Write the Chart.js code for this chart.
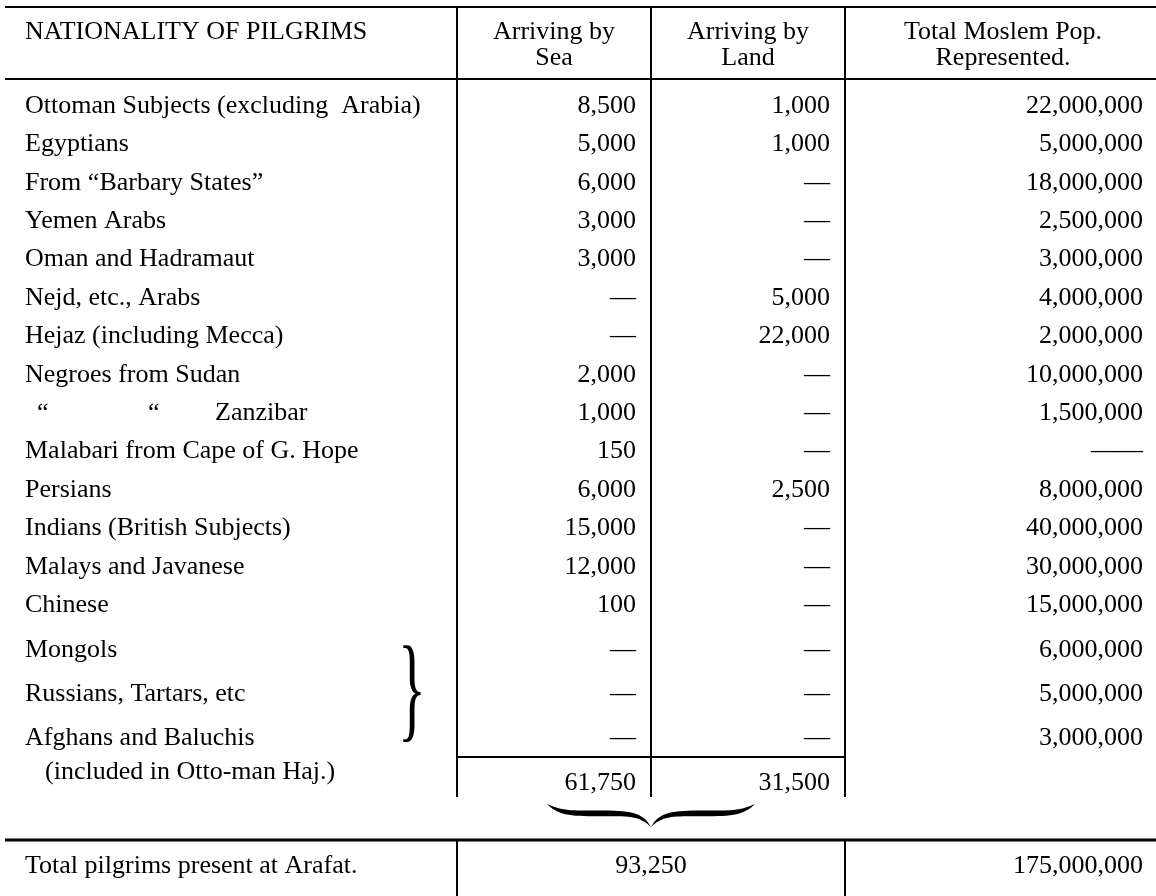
<!DOCTYPE html>
<html>
<head>
<meta charset="utf-8">
<title>Nationality of Pilgrims</title>
<script src="https://cdn.jsdelivr.net/npm/chart.js@4.4.1/dist/chart.umd.min.js"></script>
<style>
    html, body { margin: 0; padding: 0; background: #ffffff; }
    #wrap { width: 1156px; height: 896px; position: relative; }
</style>
</head>
<body>
<div id="wrap"><canvas id="pilgrimChart"></canvas></div>
<script>
// ======================================================
// DATA (read off the table)
// ======================================================
const nationalities = [
    "Ottoman Subjects (excluding  Arabia)",
    "Egyptians",
    "From \u201cBarbary States\u201d",
    "Yemen Arabs",
    "Oman and Hadramaut",
    "Nejd, etc., Arabs",
    "Hejaz (including Mecca)",
    "Negroes from Sudan",
    "\u201c\t\u201c\tZanzibar",
    "Malabari from Cape of G. Hope",
    "Persians",
    "Indians (British Subjects)",
    "Malays and Javanese",
    "Chinese",
    "Mongols",
    "Russians, Tartars, etc",
    "Afghans and Baluchis"
];

const bySea     = [8500, 5000, 6000, 3000, 3000, null, null, 2000, 1000, 150, 6000, 15000, 12000, 100, null, null, null];
const byLand    = [1000, 1000, null, null, null, 5000, 22000, null, null, null, 2500, null, null, null, null, null, null];
const moslemPop = [22000000, 5000000, 18000000, 2500000, 3000000, 4000000, 2000000, 10000000, 1500000, null,
                   8000000, 40000000, 30000000, 15000000, 6000000, 5000000, 3000000];

const columnHeads = [
    ["NATIONALITY OF PILGRIMS"],
    ["Arriving by", "Sea"],
    ["Arriving by", "Land"],
    ["Total Moslem Pop.", "Represented."]
];

const groupNote   = "(included in Otto-man Haj.)";
const seaTotal    = 61750;
const landTotal   = 31500;
const totalLabel  = "Total pilgrims present at Arafat.";
const arafatTotal = 93250;
const popTotal    = 175000000;

// ======================================================
// LAYOUT (x in layout px, y in row units)
// ======================================================
const W = 1156, H = 896;
const ROW0 = 106, ROW_H = 38.4;          // first body row centre, row pitch
const LEFT = 5, RIGHT = 1156;
const DIV = [457, 651, 845];
const PAD = 15, NUM_RIGHT = 1143, TEXT_X = 25, NOTE_X = 45;
const DITTO_X = [37, 148, 215];
const GROUP_FIRST = 14, GROUP_Y = 14.17, GROUP_STEP = 1.15;
const POP_HEAD_X = 1003;
const BRACE_X = 398;

const Y_TOP = -2.578, Y_HEAD1 = -1.93, Y_HEAD2 = -1.24, Y_HEADSEP = -0.703;
const Y_SUMLINE = 16.95, Y_NOTE = 17.35, Y_SUMS = 17.63, Y_DIVEND = 17.995;
const Y_BRACE_END = 18.17, Y_BRACE_MID = 18.43, Y_BRACE_TIP = 18.78;
const Y_TOTLINE = 19.12, Y_TOTAL = 19.80;

const FONT = '26px "Liberation Serif", "Times New Roman", serif';
const INK = "#000000";

function rowY(i) {
    if (i < GROUP_FIRST) return i;
    return GROUP_Y + (i - GROUP_FIRST) * GROUP_STEP;
}

function fmt(v) {
    return v === null ? "\u2014" : v.toLocaleString("en-US");
}

// ======================================================
// TABLE PLUGIN
// ======================================================
const tablePlugin = {
    id: "pilgrimTable",

    beforeDraw(chart) {
        const { ctx } = chart;
        ctx.save();
        ctx.fillStyle = "#ffffff";
        ctx.fillRect(0, 0, chart.width, chart.height);
        ctx.restore();
    },

    afterDraw(chart) {
        const { ctx, scales: { x, y } } = chart;
        const px = v => x.getPixelForValue(v);
        const py = v => y.getPixelForValue(v);

        const hLine = (x0, x1, yv, w) => {
            const yy = Math.round(py(yv));
            ctx.lineWidth = w;
            ctx.beginPath();
            ctx.moveTo(px(x0), yy);
            ctx.lineTo(px(x1), yy);
            ctx.stroke();
        };
        const vLine = (xv, y0, y1, w) => {
            const xx = Math.round(px(xv));
            ctx.lineWidth = w;
            ctx.beginPath();
            ctx.moveTo(xx, py(y0));
            ctx.lineTo(xx, py(y1));
            ctx.stroke();
        };
        const text = (s, xv, yv, align) => {
            ctx.textAlign = align;
            ctx.fillText(s, px(xv), py(yv));
        };

        ctx.save();
        ctx.strokeStyle = INK;
        ctx.fillStyle = INK;
        ctx.font = FONT;
        ctx.textBaseline = "middle";

        // rules
        hLine(LEFT, RIGHT, Y_TOP, 2);
        hLine(LEFT, RIGHT, Y_HEADSEP, 2);
        DIV.forEach(d => vLine(d, Y_TOP, Y_DIVEND, 2));
        hLine(DIV[0], DIV[2], Y_SUMLINE, 2);
        hLine(LEFT, RIGHT, Y_TOTLINE, 3);
        vLine(DIV[0], Y_TOTLINE, Y_TOTAL + 5, 2);
        vLine(DIV[2], Y_TOTLINE, Y_TOTAL + 5, 2);

        // header
        text(columnHeads[0][0], TEXT_X, Y_HEAD1, "left");
        const centres = [(DIV[0] + DIV[1]) / 2, (DIV[1] + DIV[2]) / 2, POP_HEAD_X];
        for (let c = 1; c < columnHeads.length; c++) {
            columnHeads[c].forEach((s, k) => text(s, centres[c - 1], k === 0 ? Y_HEAD1 : Y_HEAD2, "center"));
        }

        // body rows
        nationalities.forEach((name, i) => {
            const r = rowY(i);
            if (name.includes("\t")) {
                name.split("\t").forEach((part, k) => text(part, DITTO_X[k], r, "left"));
            } else {
                text(name, TEXT_X, r, "left");
            }
            text(fmt(bySea[i]), DIV[1] - PAD, r, "right");
            text(fmt(byLand[i]), DIV[2] - PAD, r, "right");
            const pop = moslemPop[i] === null ? "\u2014\u2014" : fmt(moslemPop[i]);
            text(pop, NUM_RIGHT, r, "right");
        });

        // group brace over the last three rows
        const gTop = py(rowY(GROUP_FIRST)) - 6;
        const gBot = py(rowY(nationalities.length - 1)) + 4;
        ctx.save();
        ctx.font = '58px "Liberation Serif", serif';
        ctx.textAlign = "left";
        ctx.textBaseline = "alphabetic";
        const m = ctx.measureText("}");
        const gh = m.actualBoundingBoxAscent + m.actualBoundingBoxDescent;
        const sy = (gBot - gTop) / gh;
        ctx.translate(px(BRACE_X), gTop);
        ctx.scale(1, sy);
        ctx.fillText("}", 0, m.actualBoundingBoxAscent);
        ctx.restore();

        // sums
        text(groupNote, NOTE_X, Y_NOTE, "left");
        text(fmt(seaTotal), DIV[1] - PAD, Y_SUMS, "right");
        text(fmt(landTotal), DIV[2] - PAD, Y_SUMS, "right");

        // under-brace, drawn as a filled calligraphic stroke
        const cx = DIV[1], half = 104;
        const yE = py(Y_BRACE_END), yM = py(Y_BRACE_MID), yT = py(Y_BRACE_TIP);
        const halfBrace = dir => {
            const a = px(cx + dir * half), b = px(cx), mid = (a + b) / 2, d = dir;
            ctx.beginPath();
            ctx.moveTo(a, yE);
            ctx.bezierCurveTo(a - d * 14, yM - 3, mid + d * 30, yM - 3.2, mid, yM - 3.2);
            ctx.bezierCurveTo(mid - d * 30, yM - 3.2, b + d * 8, yM - 2, b, yT);
            ctx.bezierCurveTo(b + d * 12, yM + 1.5, mid - d * 30, yM + 2.6, mid, yM + 2.6);
            ctx.bezierCurveTo(mid + d * 30, yM + 2.6, a - d * 10, yM + 1, a, yE);
            ctx.closePath();
            ctx.fill();
        };
        halfBrace(-1);
        halfBrace(1);

        // total row
        text(totalLabel, TEXT_X, Y_TOTAL, "left");
        text(fmt(arafatTotal), (DIV[0] + DIV[2]) / 2, Y_TOTAL, "center");
        text(fmt(popTotal), NUM_RIGHT, Y_TOTAL, "right");

        ctx.restore();
    }
};

// ======================================================
// CHART
// ======================================================
new Chart(document.getElementById("pilgrimChart"), {

    type: "scatter",

    data: {
        datasets: [{
            data: [],
            pointRadius: 0
        }]
    },

    options: {
        responsive: true,
        maintainAspectRatio: false,
        animation: false,
        events: [],
        layout: { padding: 0 },
        plugins: {
            legend: { display: false },
            tooltip: { enabled: false }
        },
        scales: {
            x: { type: "linear", min: 0, max: W, display: false },
            y: { type: "linear", reverse: true, min: -ROW0 / ROW_H, max: (H - ROW0) / ROW_H, display: false }
        }
    },

    plugins: [tablePlugin]
});
</script>
</body>
</html>
